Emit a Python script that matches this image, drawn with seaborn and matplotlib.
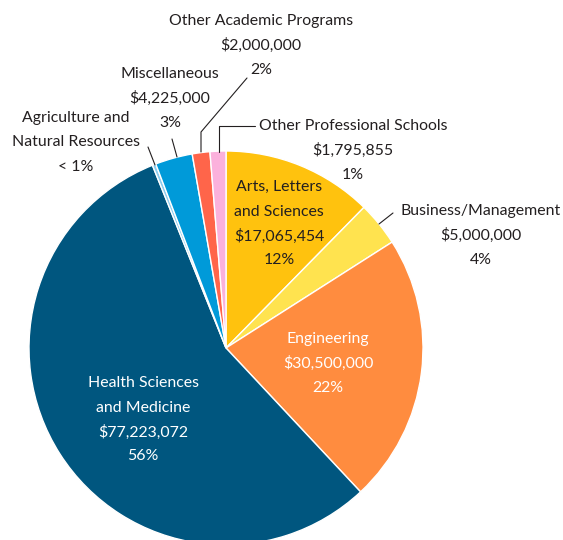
import matplotlib
matplotlib.use('Agg')
import matplotlib.pyplot as plt
import seaborn as sns

sns.set_style('white')
plt.rcParams['font.family'] = ['Lato', 'DejaVu Sans']

# slices, clockwise from 12 o'clock
categories = ['Arts, Letters\nand Sciences', 'Business/Management', 'Engineering',
              'Health Sciences\nand Medicine', 'Agriculture and\nNatural Resources',
              'Miscellaneous', 'Other Academic Programs', 'Other Professional Schools']
values = [17065454, 5000000, 30500000, 77223072, 400000, 4225000, 2000000, 1795855]
amounts = ['$17,065,454', '$5,000,000', '$30,500,000', '$77,223,072', '',
           '$4,225,000', '$2,000,000', '$1,795,855']
pcts = ['12%', '4%', '22%', '56%', '< 1%', '3%', '2%', '1%']
colors = ['#FFC20E', '#FFE34F', '#FF8C3F', '#00567F', '#8CCCEE',
          '#009AD9', '#FF654A', '#FBB1DC']

fig = plt.figure(figsize=(5.63, 5.40), dpi=100)
ax = fig.add_axes([0, 0, 1, 1])

# y axis runs downward (pixel-like), so start at 270 to begin at the top
ax.pie(values, colors=colors, startangle=270, counterclock=True,
       center=(226, 348), radius=197, frame=True,
       wedgeprops=dict(edgecolor='white', linewidth=1))
ax.set_xlim(0, 563)
ax.set_ylim(540, 0)
ax.set_aspect('equal')
ax.axis('off')

dark = '#231F20'
fs = 11.4
gap = 24.5

def label(i, x, y, color=dark):
    lines = categories[i].split('\n')
    if amounts[i]:
        lines.append(amounts[i])
    lines.append(pcts[i])
    for k, t in enumerate(lines):
        ax.text(x, y + k * gap, t, ha='center', va='center', fontsize=fs, color=color)

label(0, 279, 187)
label(1, 481, 211)
label(2, 328, 339, 'white')
label(3, 143, 383, 'white')
label(4, 76, 118)
label(5, 170, 74)
label(6, 261, 21)
label(7, 353, 126)

lw = 0.8
ax.plot([148, 155], [147, 165], color=dark, lw=lw)
ax.plot([172, 177], [139, 157], color=dark, lw=lw)
ax.plot([247, 201, 201], [78, 132, 152], color=dark, lw=lw)
ax.plot([255, 219, 219], [126, 126, 152], color=dark, lw=lw)
ax.plot([393, 379], [213, 224], color=dark, lw=lw)

fig.savefig('out.png', dpi=100)
